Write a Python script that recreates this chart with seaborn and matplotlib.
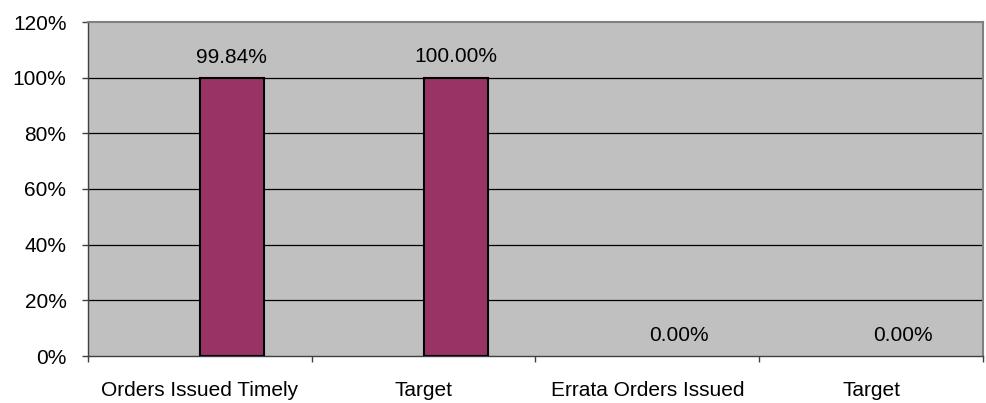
import matplotlib
matplotlib.use("Agg")
import matplotlib.pyplot as plt
import seaborn as sns
import pandas as pd
import numpy as np
from matplotlib.ticker import FixedLocator

categories = ["Orders Issued Timely", "Target", "Errata Orders Issued", "Target"]
cat_keys = ["c0", "c1", "c2", "c3"]
values = [99.84, 100.00, 0.00, 0.00]
yticks = [0, 20, 40, 60, 80, 100, 120]

sns.set_theme(style="white")
plt.rcParams['font.family'] = ['Liberation Sans', 'DejaVu Sans']

df = pd.DataFrame({
    "cat": cat_keys * 2,
    "val": [np.nan] * 4 + values,
    "series": ["blank"] * 4 + ["value"] * 4,
})

fig = plt.figure(figsize=(9.87, 4.03), dpi=100)
ax = fig.add_axes([88/987, 1 - 356/403, (983-88)/987, (356-22)/403])
ax.set_facecolor("#C0C0C0")

sns.barplot(data=df, x="cat", y="val", hue="series", hue_order=["blank", "value"],
            order=cat_keys, palette={"blank": "#993366", "value": "#993366"},
            saturation=1, width=0.5714, edgecolor="black", linewidth=1.5, ax=ax,
            legend=False, errorbar=None, zorder=3)

for p in ax.patches:
    if p.get_height() == 0:
        p.set_linewidth(0)

fs = 15
ax.set_xlim(-0.5, 3.5)
ax.set_ylim(0, 120)
ax.set_yticks(yticks)
ax.set_yticklabels([f"{t}%" for t in yticks], fontsize=fs, color="black")
ax.set_xticks(range(4))
ax.set_xticklabels(categories, fontsize=fs, color="black")
ax.xaxis.set_minor_locator(FixedLocator([-0.5, 0.5, 1.5, 2.5, 3.5]))
ax.tick_params(axis="x", which="major", length=0, pad=18, bottom=True)
ax.tick_params(axis="x", which="minor", length=4.5, width=1, color="#404040",
               direction="out", bottom=True)
ax.tick_params(axis="y", length=4.5, width=1, color="#404040", direction="out", pad=11, left=True)
ax.set_xlabel("")
ax.set_ylabel("")

for y in yticks[1:-1]:
    ax.axhline(y, color="#000000", linewidth=0.9, zorder=1)

for s in ["top", "right"]:
    ax.spines[s].set_color("#808080")
    ax.spines[s].set_linewidth(1.5)
for s in ["left", "bottom"]:
    ax.spines[s].set_color("#404040")
    ax.spines[s].set_linewidth(1.0)

offset = 0.5714 / 4
for i, v in enumerate(values):
    ax.text(i + offset, v + 7.5, f"{v:.2f}%", ha="center", va="center", fontsize=fs, color="black")

fig.savefig("out.png", dpi=100)
